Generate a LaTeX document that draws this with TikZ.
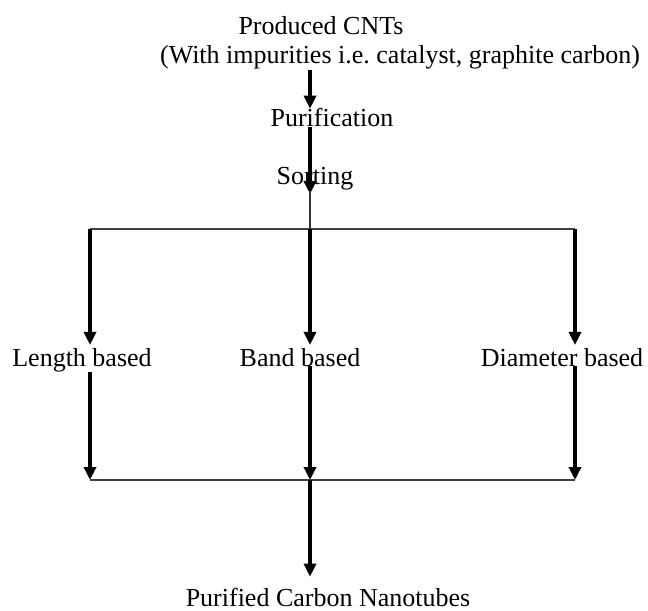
\documentclass[tikz,border=0pt]{standalone}
\usepackage{fontspec}
\setmainfont{Liberation Serif}
\usetikzlibrary{arrows.meta}
\tikzset{
  lbl/.style={anchor=base, inner sep=0pt, outer sep=0pt, font=\fontsize{26bp}{30bp}\selectfont},
  arr/.style={line width=3.5bp, -{Triangle[width=12bp,length=13bp]}},
  bar/.style={line width=2bp, draw=black!75},
  thin/.style={line width=1.2bp, draw=black!80}
}
\begin{document}
\begin{tikzpicture}[x=1bp,y=-1bp]
\useasboundingbox (0,0) rectangle (648,611);
% text nodes
\node[lbl] (prod) at (321,35) {Produced CNTs};
\node[lbl] (imp) at (400,64) {(With impurities i.e.\ catalyst, graphite carbon)};
\node[lbl] (pur) at (332,127) {Purification};
\node[lbl] (sort) at (315,185) {Sorting};
\node[lbl] (len) at (82,366) {Length based};
\node[lbl] (band) at (300,366) {Band based};
\node[lbl] (dia) at (562,366) {Diameter based};
\node[lbl] (fin) at (328,606) {Purified Carbon Nanotubes};
% junction coordinates
\coordinate (cx) at (310,0);
\coordinate (tl) at (90,229);
\coordinate (tm) at (310,229);
\coordinate (tr) at (575,229);
\coordinate (bl) at (90,480);
\coordinate (bm) at (310,480);
\coordinate (br) at (575,480);
% connectors
\draw[arr] (imp.south -| cx) -- (pur.north -| cx);
\draw[arr] (pur.south -| cx) -- ([yshift=-9bp]sort.base -| cx);
\draw[thin] (sort.south -| cx) -- (tm);
\draw[bar] (tl) -- (tr);
\draw[arr, shorten >=3bp] (tl) -- (len.north -| tl);
\draw[arr, shorten >=3bp] (tm) -- (band.north -| tm);
\draw[arr, shorten >=3bp] (tr) -- (dia.north -| tr);
\draw[arr] (len.south -| tl) -- (bl);
\draw[arr] (band.south -| tm) -- (bm);
\draw[arr] (dia.south -| tr) -- (br);
\draw[bar] (bl) -- (br);
\draw[arr, shorten >=11bp] (bm) -- (fin.north -| bm);
\end{tikzpicture}
\end{document}
